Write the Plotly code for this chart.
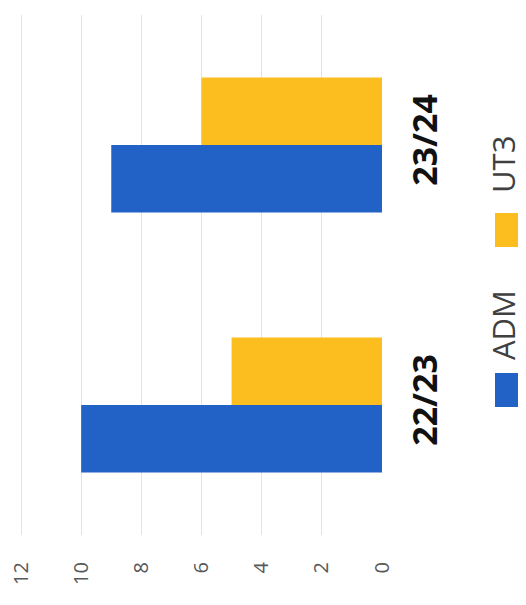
import plotly.graph_objects as go

categories = ["22/23", "23/24"]
adm_values = [10, 9]
ut3_values = [5, 6]
series_names = ["ADM", "UT3"]
tick_values = [0, 2, 4, 6, 8, 10, 12]
tick_labels = ["0", "2", "4", "6", "8", "10", "12"]

BLUE = "#2262C6"
YELLOW = "#FCBE1E"

fig = go.Figure()
fig.add_trace(go.Bar(y=categories, x=adm_values, name=series_names[0],
                     orientation="h", marker=dict(color=BLUE, line=dict(width=0))))
fig.add_trace(go.Bar(y=categories, x=ut3_values, name=series_names[1],
                     orientation="h", marker=dict(color=YELLOW, line=dict(width=0))))

OFF = 8  # page body margin
W, H = 526 - OFF, 605 - OFF
L, T = 18 - OFF, 15 - OFF
R = W - (382 - OFF)
B = H - (535 - OFF)
pw, ph = W - L - R, H - T - B

def px_x(px):
    return (px - OFF - L) / pw

def px_y(py):
    return (H - B - (py - OFF)) / ph

fig.update_layout(
    width=W, height=H,
    margin=dict(l=L, r=R, t=T, b=B, pad=0, autoexpand=False),
    paper_bgcolor="white", plot_bgcolor="white",
    barmode="group", bargap=0.48, bargroupgap=0,
    showlegend=False,
    font=dict(family="Open Sans", color="#595959"),
    xaxis=dict(
        range=[12.1, 0], tickvals=tick_values, ticktext=tick_labels,
        tickangle=-90, tickfont=dict(family="Open Sans", size=20, color="#595959"),
        showgrid=True, gridcolor="#E3E3E3", gridwidth=1,
        zeroline=False, showline=False, ticks="", ticklabelstandoff=22,
        ticklabeloverflow="allow", automargin=False, fixedrange=True,
    ),
    yaxis=dict(
        side="right", tickangle=-90, range=[-0.5, 1.5],
        tickfont=dict(family="Open Sans", size=34, color="#111111", weight="bold"),
        showgrid=False, zeroline=False, showline=False, ticks="",
        ticklabelstandoff=20, automargin=False,
    ),
)

# rotated legend
legend_items = [(series_names[1], YELLOW, 165, 213, 247), (series_names[0], BLUE, 325, 373, 407)]
for name, color, ty, sy0, sy1 in legend_items:
    fig.add_annotation(text=name, xref="paper", yref="paper", x=px_x(503), y=px_y(ty),
                       xanchor="center", yanchor="middle", textangle=-90, showarrow=False,
                       font=dict(family="Open Sans", size=31, color="#404040"))
    fig.add_shape(type="rect", xref="paper", yref="paper",
                  x0=px_x(495), x1=px_x(522), y0=px_y(sy1), y1=px_y(sy0),
                  fillcolor=color, line=dict(width=0))

fig.write_html("out.html")
